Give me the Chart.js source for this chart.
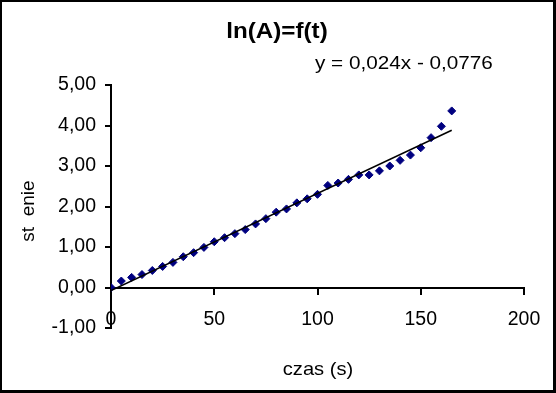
<!DOCTYPE html>
<html>
<head>
<meta charset="utf-8">
<script src="https://cdn.jsdelivr.net/npm/chart.js@4"></script>
<style>
html,body{margin:0;padding:0;background:#fff;}
#wrap{width:556px;height:393px;position:relative;}
</style>
</head>
<body>
<div id="wrap"><canvas id="c" width="556" height="393"></canvas></div>
<script>
// ---- data ----
const times = [0,5,10,15,20,25,30,35,40,45,50,55,60,65,70,75,80,85,90,95,100,105,110,115,120,125,130,135,140,145,150,155,160,165];
const lnA = [0.00,0.16,0.25,0.32,0.42,0.52,0.62,0.76,0.86,0.99,1.13,1.23,1.33,1.43,1.57,1.70,1.86,1.94,2.09,2.19,2.30,2.52,2.58,2.67,2.78,2.78,2.88,3.00,3.14,3.27,3.45,3.70,3.98,4.36];
const trendSlope = 0.024;
const trendIntercept = -0.0776;
const trendRange = [0, 165];
const xTickLabels = ['0','50','100','150','200'];
const yTickLabels = ['-1,00','0,00','1,00','2,00','3,00','4,00','5,00'];
const titleText = 'ln(A)=f(t)';
const equationText = 'y = 0,024x - 0,0776';
const xTitle = 'czas (s)';
const yTitle = 'st  enie';

const points = times.map((t,i)=>({x:t,y:lnA[i]}));
const trend = trendRange.map(x=>({x:x,y:trendSlope*x+trendIntercept}));

const FONT = "'Liberation Sans', Arial, Helvetica, sans-serif";

function stretchedText(ctx, text, x, y, sx, align){
  ctx.save();
  ctx.translate(x, y);
  ctx.scale(sx, 1);
  ctx.textAlign = align;
  ctx.fillText(text, 0, 0);
  ctx.restore();
}

const textPlugin = {
  id:'texts',
  afterDraw(chart){
    const ctx = chart.ctx;
    ctx.save();
    ctx.fillStyle = '#000';
    ctx.textBaseline = 'middle';
    ctx.font = "bold 22px " + FONT;
    stretchedText(ctx, titleText, 277, 32, 1.1, 'center');
    ctx.font = "19px " + FONT;
    stretchedText(ctx, equationText, 315, 64, 1.09, 'left');
    ctx.font = "19px " + FONT;
    stretchedText(ctx, xTitle, 318, 370, 1.06, 'center');
    ctx.save();
    ctx.translate(29, 211);
    ctx.rotate(-Math.PI/2);
    ctx.textAlign = 'center';
    ctx.fillText(yTitle, 0, 0);
    ctx.restore();
    // frame
    ctx.fillStyle = '#000';
    ctx.fillRect(0,0,556,2);
    ctx.fillRect(0,0,2,393);
    ctx.fillRect(553,0,3,393);
    ctx.fillRect(0,390,556,3);
    ctx.restore();
  }
};

new Chart(document.getElementById('c'), {
  type:'scatter',
  data:{
    datasets:[
      {
        label:'trend',
        data:trend,
        showLine:true,
        borderColor:'#000',
        borderWidth:1.5,
        pointRadius:0,
        fill:false
      },
      {
        label:'ln(A)',
        data:points,
        pointStyle:'rectRot',
        pointRadius:4,
        backgroundColor:'#000080',
        borderColor:'#000080',
        borderWidth:1,
        showLine:false
      }
    ]
  },
  options:{
    responsive:false,
    animation:false,
    devicePixelRatio:1,
    layout:{padding:{top:85,bottom:65,left:0,right:32}},
    plugins:{legend:{display:false},title:{display:false},tooltip:{enabled:false}},
    scales:{
      x:{
        type:'linear',
        position:{y:0},
        min:0,max:200,
        ticks:{
          stepSize:50,
          color:'#000',
          font:{family:FONT,size:19.5},
          padding:14,
          maxRotation:0,
          callback:(v,i)=>xTickLabels[i]
        },
        grid:{drawOnChartArea:false,color:'#000',lineWidth:2,tickLength:6},
        border:{display:true,color:'#000',width:2}
      },
      y:{
        type:'linear',
        min:-1,max:5,
        afterFit(s){s.width=111;},
        ticks:{
          stepSize:1,
          color:'#000',
          font:{family:FONT,size:19.5},
          padding:9,
          callback:(v,i)=>yTickLabels[i]
        },
        grid:{drawOnChartArea:false,color:'#000',lineWidth:2,tickLength:6},
        border:{display:true,color:'#000',width:2}
      }
    }
  },
  plugins:[textPlugin]
});
</script>
</body>
</html>
